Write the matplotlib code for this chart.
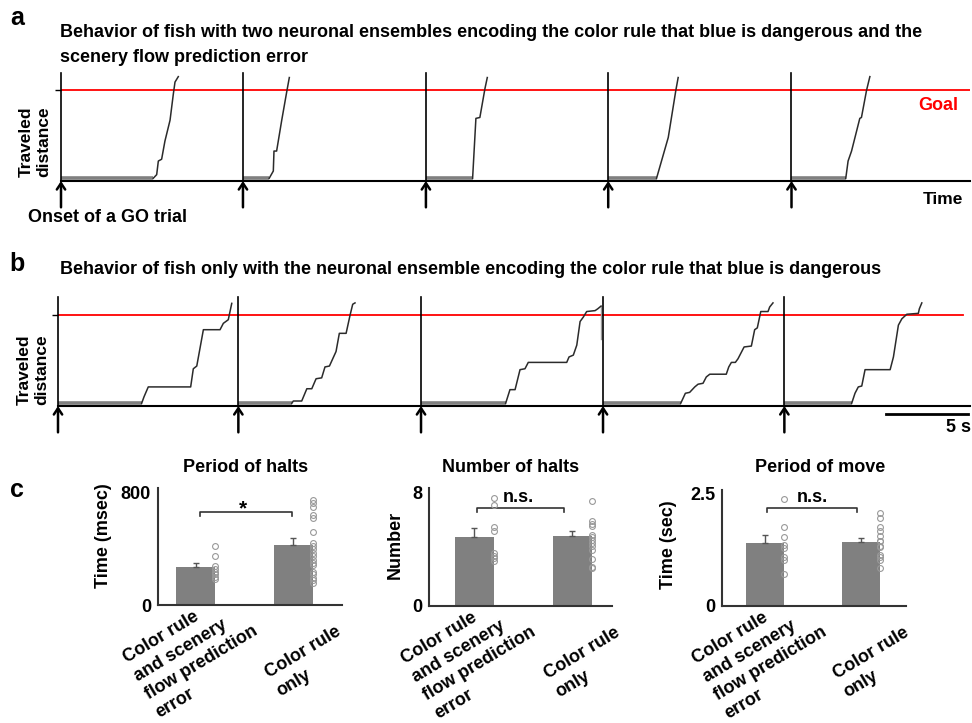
import matplotlib
matplotlib.use('Agg')
import matplotlib.pyplot as plt
from matplotlib.transforms import offset_copy

plt.rcParams['font.family'] = ['Liberation Sans', 'DejaVu Sans']
plt.rcParams['font.weight'] = 'bold'

W, H = 972, 723
GOAL = 1.0

# ── Panel a: two ensembles (time in s from trial onset, distance with goal = 1) ──
ONSETS_A = [0.0, 11.03, 22.12, 33.17, 44.28]
TRACE_A_T = [
    [0, 5.59, 5.80, 5.90, 6.10, 6.30, 6.61, 6.81, 6.91, 7.11],
    [0, 1.59, 1.84, 1.88, 2.04, 2.35, 2.65, 2.81],
    [0, 2.83, 3.03, 3.27, 3.58, 3.72],
    [0, 2.93, 3.64, 4.10, 4.24],
    [0, 3.29, 3.43, 3.64, 4.14, 4.24, 4.55, 4.75],
]
TRACE_A_D = [
    [0.03, 0.03, 0.07, 0.22, 0.24, 0.44, 0.67, 0.96, 1.09, 1.15],
    [0.03, 0.03, 0.11, 0.33, 0.33, 0.67, 0.98, 1.14],
    [0.03, 0.03, 0.69, 0.70, 1.02, 1.14],
    [0.03, 0.03, 0.48, 1.00, 1.14],
    [0.03, 0.03, 0.22, 0.33, 0.69, 0.70, 1.00, 1.15],
]

# ── Panel b: color rule only ──
ONSETS_B = [0.0, 10.93, 22.0, 33.03, 44.02]
TRACE_B_T = [
    [0, 5.07, 5.21, 5.47, 8.04, 8.20, 8.41, 8.81, 9.82, 10.02, 10.32, 10.53],
    [0, 3.24, 3.33, 3.84, 4.15, 4.45, 4.71, 5.05, 5.25, 5.52, 5.92, 6.12, 6.53, 6.77, 6.93, 7.07],
    [0, 5.13, 5.39, 5.70, 6.00, 6.30, 6.50, 8.83, 8.97, 9.23, 9.44, 9.64, 9.84, 10.04, 10.55, 10.71, 10.91],
    [0, 4.71, 4.99, 5.25, 5.56, 5.76, 6.06, 6.26, 6.47, 7.47, 7.62, 7.78, 8.02, 8.18, 8.55, 8.99,
     9.19, 9.35, 9.56, 10.0, 10.1, 10.3],
    [0, 4.08, 4.28, 4.48, 4.69, 4.89, 6.41, 6.61, 6.91, 7.12, 7.42, 8.12, 8.18, 8.33],
]
TRACE_B_D = [
    [0.03, 0.03, 0.10, 0.21, 0.21, 0.41, 0.44, 0.84, 0.84, 0.91, 0.95, 1.13],
    [0.03, 0.03, 0.055, 0.055, 0.19, 0.19, 0.30, 0.31, 0.43, 0.44, 0.60, 0.80, 0.80, 1.0, 1.12, 1.135],
    [0.03, 0.03, 0.18, 0.18, 0.40, 0.41, 0.48, 0.48, 0.54, 0.56, 0.67, 0.93, 0.98, 1.04, 1.05, 1.07, 1.10],
    [0.03, 0.03, 0.14, 0.15, 0.21, 0.24, 0.25, 0.32, 0.35, 0.35, 0.43, 0.48, 0.48, 0.52, 0.65, 0.66,
     0.84, 0.86, 1.04, 1.04, 1.09, 1.135],
    [0.03, 0.03, 0.14, 0.21, 0.22, 0.40, 0.40, 0.54, 0.89, 0.96, 1.01, 1.02, 1.07, 1.135],
]

# ── Panel c: bar charts ──
GROUPS = ["Color rule\nand scenery\nflow prediction\nerror", "Color rule\nonly"]

HALT_PERIOD_MEAN = [273, 426]
HALT_PERIOD_SEM = [30, 50]
HALT_PERIOD_G1 = [423, 351, 275, 255, 239, 220, 203, 184]
HALT_PERIOD_G2 = [752, 725, 698, 640, 618, 520, 440, 420, 398, 372, 350, 322, 300, 285, 238,
                  220, 195, 175, 160]

HALT_NUM_MEAN = [4.90, 4.98]
HALT_NUM_SEM = [0.64, 0.32]
HALT_NUM_G1 = [7.64, 7.12, 5.58, 5.34, 3.77, 3.54, 3.37, 3.18]
HALT_NUM_G2 = [7.41, 6.05, 5.82, 5.63, 5.04, 4.87, 4.68, 4.49, 4.25, 3.96, 3.30, 2.78, 2.66]

MOVE_PERIOD_MEAN = [1.39, 1.42]
MOVE_PERIOD_SEM = [0.185, 0.09]
MOVE_PERIOD_G1 = [2.37, 1.76, 1.52, 1.35, 1.28, 1.09, 1.02, 0.70]
MOVE_PERIOD_G2 = [2.06, 1.96, 1.76, 1.67, 1.56, 1.45, 1.43, 1.33, 1.30, 1.13, 1.08, 1.02, 0.84]


def rect(left, top, right, bottom):
    return [left / W, 1 - bottom / H, (right - left) / W, (bottom - top) / H]


def ftext(x, y, s, **kw):
    fig.text(x / W, 1 - y / H, s, **kw)


def trace_panel(ax, onsets, ts, ds, xmax, ytop, goal_end):
    for on in onsets:
        ax.plot([on, on], [0, ytop], color='black', lw=1.2, clip_on=False, zorder=3)
        ax.annotate('', xy=(on, 0), xytext=(on, -0.29),
                    arrowprops=dict(arrowstyle='->,head_length=0.45,head_width=0.3',
                                    color='black', lw=1.8, shrinkA=0, shrinkB=0),
                    annotation_clip=False)
    for on, t, d in zip(onsets, ts, ds):
        x = [on + v for v in t]
        ax.plot(x[:2], d[:2], color='#808080', lw=2.6, solid_capstyle='butt', zorder=2)
        ax.plot(x[1:], d[1:], color='#2b2b2b', lw=1.1, zorder=2)
    ax.plot([0, goal_end], [GOAL, GOAL], color='red', lw=1.3, zorder=1)
    ax.set_xlim(0, xmax)
    ax.set_ylim(0, ytop)
    for s in ['top', 'right', 'left']:
        ax.spines[s].set_visible(False)
    ax.spines['bottom'].set_linewidth(1.5)
    ax.set_xticks([])
    ax.set_yticks([GOAL])
    ax.set_yticklabels([])
    ax.tick_params(axis='y', length=4, width=1, direction='out')
    ax.patch.set_alpha(0)


def bar_panel(ax, means, sems, g1, g2, ymax, ytop, ticklabels, xlim, bracket, mark):
    x = [0, 1]
    bw = 0.40
    ax.bar(x, means, width=bw, color='#808080', zorder=2)
    ax.errorbar(x, means, yerr=[[0, 0], sems], fmt='none', ecolor='#555555',
                elinewidth=1, capsize=2.5, capthick=1, zorder=3)
    for xi, pts in zip(x, [g1, g2]):
        ax.plot([xi + bw / 2] * len(pts), pts, 'o', mfc='none', mec='#999999',
                ms=4.2, mew=0.8, zorder=4, clip_on=False)
    ax.set_xlim(*xlim)
    ax.set_ylim(0, ytop)
    ax.set_yticks([0, ymax])
    ax.set_yticklabels(ticklabels, fontsize=13, fontweight='bold')
    ax.tick_params(axis='y', length=0, pad=5)
    ax.set_xticks([])
    for s in ['top', 'right']:
        ax.spines[s].set_visible(False)
    for s in ['left', 'bottom']:
        ax.spines[s].set_linewidth(1.5)
        ax.spines[s].set_color('#333333')
    x0, x1, yl, yh, tx, ty = bracket
    ax.plot([x0, x0, x1, x1], [yl, yh, yh, yl], color='#333333', lw=1.2)
    ax.text(tx, ty, mark, ha='center', va='baseline', fontsize=13 if mark != '*' else 15,
            fontweight='bold')
    offs = [(-54.7, -33.8), (-22.3, -44.6)]
    for xi, lab, (dx, dy) in zip(x, GROUPS, offs):
        tr = offset_copy(ax.get_xaxis_transform(), fig=fig, x=dx, y=dy, units='points')
        ax.text(xi, 0, lab, transform=tr, rotation=31, rotation_mode='anchor',
                ha='left', va='top', fontsize=13, fontweight='bold', linespacing=1.33)


fig = plt.figure(figsize=(9.72, 7.23), dpi=100)

# panel a
ax_a = fig.add_axes(rect(61, 73, 970, 181))
trace_panel(ax_a, ONSETS_A, TRACE_A_T, TRACE_A_D, 55.1, 1.19, 55.1)
ftext(17, 18, 'a', fontsize=18, ha='center', va='center')
ftext(60, 24, 'Behavior of fish with two neuronal ensembles encoding the color rule that blue is dangerous and the\n'
      'scenery flow prediction error', fontsize=13, ha='left', va='top', linespacing=1.64)
ftext(35, 142, 'Traveled\ndistance', rotation=90, fontsize=12.5, ha='center', va='center', linespacing=1.25)
ftext(938, 105, 'Goal', color='red', fontsize=13, ha='center', va='center')
ftext(943, 200, 'Time', fontsize=12.5, ha='center', va='center')
ftext(107, 218, 'Onset of a GO trial', fontsize=13, ha='center', va='center')

# panel b
ax_b = fig.add_axes(rect(58, 297, 970, 406))
trace_panel(ax_b, ONSETS_B, TRACE_B_T, TRACE_B_D, 55.27, 1.2, 54.85)
# small grey drop at the end of trial 3
ax_b.plot([ONSETS_B[2] + 10.91] * 2, [1.10, 0.74], color='#9a9a9a', lw=1.0, zorder=1)
# scale bar 5 s
ax_b.plot([50.15, 55.15], [-0.088, -0.088], color='black', lw=2, clip_on=False)
ftext(17, 264, 'b', fontsize=18, ha='center', va='center')
ftext(60, 270, 'Behavior of fish only with the neuronal ensemble encoding the color rule that blue is dangerous',
      fontsize=13, ha='left', va='center')
ftext(33, 370, 'Traveled\ndistance', rotation=90, fontsize=12.5, ha='center', va='center', linespacing=1.25)
ftext(958, 428, '5 s', fontsize=13, ha='center', va='center')

# panel c
ftext(17, 490, 'c', fontsize=18, ha='center', va='center')
ax_c1 = fig.add_axes(rect(158, 488, 342, 605))
bar_panel(ax_c1, HALT_PERIOD_MEAN, HALT_PERIOD_SEM, HALT_PERIOD_G1, HALT_PERIOD_G2,
          800, 835, ['0', '800'], (-0.388, 1.5), (0.043, 0.986, 635, 664, 0.484, 650), '*')
ax_c2 = fig.add_axes(rect(429, 488, 612, 606))
bar_panel(ax_c2, HALT_NUM_MEAN, HALT_NUM_SEM, HALT_NUM_G1, HALT_NUM_G2,
          8, 8.35, ['0', '8'], (-0.464, 1.403), (0.026, 0.914, 6.68, 6.96, 0.445, 7.36), 'n.s.')
ax_c3 = fig.add_axes(rect(722, 490, 906, 606))
bar_panel(ax_c3, MOVE_PERIOD_MEAN, MOVE_PERIOD_SEM, MOVE_PERIOD_G1, MOVE_PERIOD_G2,
          2.5, 2.57, ['0', '2.5'], (-0.448, 1.469), (0.021, 0.958, 2.08, 2.17, 0.49, 2.30), 'n.s.')

ftext(246, 468, 'Period of halts', fontsize=13, ha='center', va='center')
ftext(511, 468, 'Number of halts', fontsize=13, ha='center', va='center')
ftext(820, 468, 'Period of move', fontsize=13, ha='center', va='center')
ftext(103, 536, 'Time (msec)', rotation=90, fontsize=13, ha='center', va='center')
ftext(395, 545, 'Number', rotation=90, fontsize=13, ha='center', va='center')
ftext(668, 545, 'Time (sec)', rotation=90, fontsize=13, ha='center', va='center')

fig.savefig('out.png', dpi=100)
